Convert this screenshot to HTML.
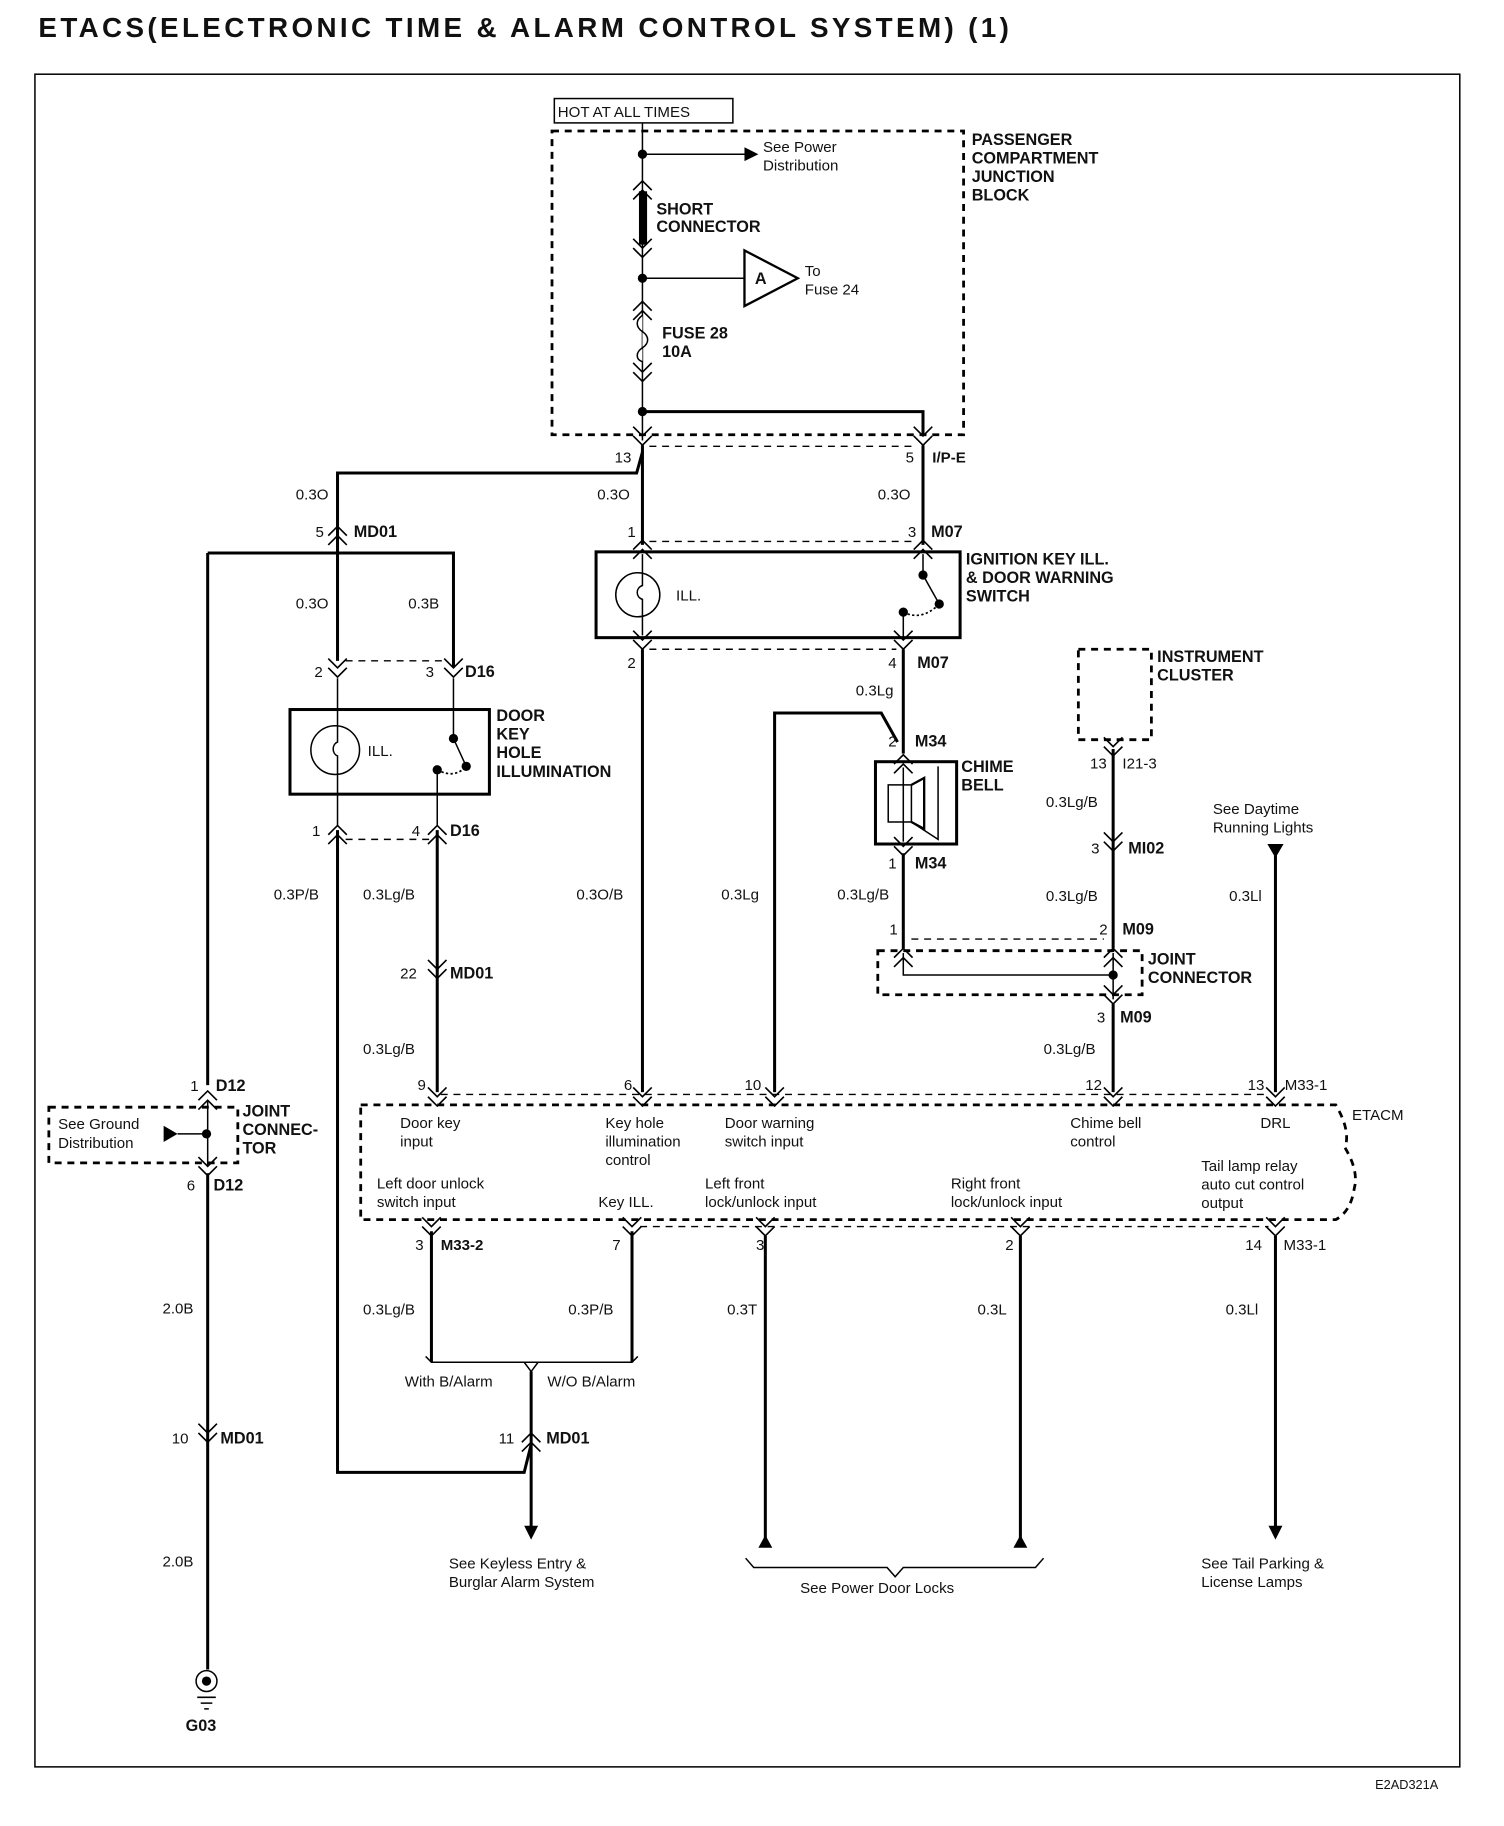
<!DOCTYPE html>
<html><head><meta charset="utf-8"><style>
html,body{margin:0;padding:0;background:#fff;}
svg{display:block;}
text{font-family:"Liberation Sans",sans-serif;font-size:13px;fill:#111;}
.b{font-weight:bold;font-size:14px;}
.w{stroke:#000;stroke-width:2.6;fill:none;}
.t{stroke:#000;stroke-width:1.3;fill:none;}
.d{stroke:#000;stroke-width:1.2;fill:none;stroke-dasharray:6 5;}
.dd{stroke:#000;stroke-width:2.4;fill:none;stroke-dasharray:6 5;}
</style></head><body>
<svg width="1504" height="1826" viewBox="0 0 1297 1575" xmlns="http://www.w3.org/2000/svg">
<defs>
<path id="dn" d="M-8 -12 L0 -4 L8 -12 M-8 -4 L0 4 L8 -4" stroke="#000" stroke-width="1.4" fill="none"/>
<path id="up" d="M-8 12 L0 4 L8 12 M-8 4 L0 -4 L8 4" stroke="#000" stroke-width="1.4" fill="none"/>
</defs>
<text x="33" y="32" style="font-size:24px;font-weight:bold;letter-spacing:2.9px">ETACS(ELECTRONIC TIME &amp; ALARM CONTROL SYSTEM) (1)</text>
<rect x="30" y="64" width="1229" height="1460" class="t" stroke-width="1"/>

<!-- junction block -->
<rect x="478" y="85" width="154" height="21" class="t"/>
<text x="481" y="101" style="font-size:13px">HOT AT ALL TIMES</text>
<rect x="476" y="113" width="355" height="262" class="dd"/>
<text class="b" x="838" y="125">PASSENGER</text><text class="b" x="838" y="141">COMPARTMENT</text><text class="b" x="838" y="157">JUNCTION</text><text class="b" x="838" y="173">BLOCK</text>
<path class="t" d="M554 106 V380"/>
<circle cx="554" cy="133" r="4"/>
<path class="t" d="M554 133 H645"/><path d="M642 127 L654 133 L642 139Z"/>
<text x="658" y="131">See Power</text><text x="658" y="147">Distribution</text>
<use href="#up" x="554" y="160"/>
<rect x="551" y="165" width="7" height="46" fill="#000"/>
<text class="b" x="566" y="185">SHORT</text><text class="b" x="566" y="200">CONNECTOR</text>
<use href="#dn" x="554" y="218"/>
<circle cx="554" cy="240" r="4"/>
<path class="t" d="M554 240 H642"/>
<path d="M642 216 L642 264 L688 240Z" fill="#fff" stroke="#000" stroke-width="2"/>
<text class="b" x="651" y="245">A</text>
<text x="694" y="238">To</text><text x="694" y="254">Fuse 24</text>
<use href="#up" x="554" y="264"/>
<path d="M554 272 c-6 4 -6 10 0 14 c6 4 6 10 0 14 c-6 4 -6 10 0 12" stroke="#000" stroke-width="1.3" fill="#fff"/>
<text class="b" x="571" y="292">FUSE 28</text><text class="b" x="571" y="308">10A</text>
<use href="#dn" x="554" y="325"/>
<circle cx="554" cy="355" r="4"/>
<path class="w" d="M554 355 H796 V375"/>
<use href="#dn" x="554" y="380"/><use href="#dn" x="796" y="380"/>
<path class="d" d="M560 385 H790"/>
<text x="530" y="399">13</text><text x="781" y="399">5</text><text x="804" y="399" class="b" style="font-size:13px">I/P-E</text>

<!-- wires top -->
<path class="w" d="M554 384 V470"/>
<path class="w" d="M796 384 V470"/>
<path class="w" d="M554 390 L549 408 H291 V570"/>
<text x="255" y="431">0.3O</text><text x="515" y="431">0.3O</text><text x="757" y="431">0.3O</text>
<use href="#up" x="291" y="458"/><text x="272" y="463">5</text><text class="b" x="305" y="463">MD01</text>

<!-- ignition key -->
<text x="541" y="463">1</text><text x="783" y="463">3</text><text class="b" x="803" y="463">M07</text>
<path class="d" d="M560 467 H790"/>
<use href="#up" x="554" y="470"/><use href="#up" x="796" y="470"/>
<rect x="514" y="476" width="314" height="74" class="w"/>
<circle cx="550" cy="513" r="19" class="t" stroke-width="1.6"/>
<path class="t" d="M554 478 V505 c-6 2 -6 10 0 12 V548"/>
<text x="583" y="518">ILL.</text>
<path class="t" d="M796 478 V496 L810 521"/>
<circle cx="796" cy="496" r="4"/><circle cx="810" cy="521" r="4"/><circle cx="779" cy="528" r="4"/>
<path d="M779 528 Q795 536 810 521" stroke="#000" stroke-width="1.5" stroke-dasharray="2 2" fill="none"/>
<path class="t" d="M779 528 V550"/>
<text class="b" x="833" y="487">IGNITION KEY ILL.</text><text class="b" x="833" y="503">&amp; DOOR WARNING</text><text class="b" x="833" y="519">SWITCH</text>
<use href="#dn" x="554" y="556"/><use href="#dn" x="779" y="556"/>
<path class="d" d="M560 560 H773"/>
<text x="541" y="576">2</text><text x="766" y="576">4</text><text class="b" x="791" y="576">M07</text>
<path class="w" d="M554 560 V942"/>
<path class="w" d="M779 560 V650"/>
<text x="738" y="600">0.3Lg</text>
<path class="w" d="M774 640 L760 615 H668 V942"/>

<!-- left outer loop -->
<path class="w" d="M179 477 H391 V575"/>
<path class="w" d="M179 477 V936"/>
<text x="255" y="525">0.3O</text><text x="352" y="525">0.3B</text>
<use href="#dn" x="291" y="580"/><use href="#dn" x="391" y="580"/>
<path class="d" d="M298 570 H384"/>
<text x="271" y="584">2</text><text x="367" y="584">3</text><text class="b" x="401" y="584">D16</text>
<rect x="250" y="612" width="172" height="73" class="w"/>
<circle cx="289" cy="647" r="21" class="t" stroke-width="1.6"/>
<path class="t" d="M291 585 V640 c-5 2 -5 10 0 12 V712"/>
<text x="317" y="652">ILL.</text>
<path class="t" d="M391 585 V637 L402 661"/>
<circle cx="391" cy="637" r="4"/><circle cx="402" cy="661" r="4"/><circle cx="377" cy="664" r="4"/>
<path d="M377 664 Q392 672 402 661" stroke="#000" stroke-width="1.5" stroke-dasharray="2 2" fill="none"/>
<path class="t" d="M377 664 V712"/>
<text class="b" x="428" y="622">DOOR</text><text class="b" x="428" y="638">KEY</text><text class="b" x="428" y="654">HOLE</text><text class="b" x="428" y="670">ILLUMINATION</text>
<use href="#up" x="291" y="716"/><use href="#up" x="377" y="716"/>
<path class="d" d="M298 724 H370"/>
<text x="269" y="721">1</text><text x="355" y="721">4</text><text class="b" x="388" y="721">D16</text>
<path class="w" d="M291 716 V1270 H452 L458 1246"/>
<path class="w" d="M377 716 V942"/>
<text x="236" y="776">0.3P/B</text><text x="313" y="776">0.3Lg/B</text><text x="497" y="776">0.3O/B</text><text x="622" y="776">0.3Lg</text><text x="722" y="776">0.3Lg/B</text>
<use href="#dn" x="377" y="840"/><text x="345" y="844">22</text><text class="b" x="388" y="844">MD01</text>
<text x="313" y="909">0.3Lg/B</text>

<!-- chime bell -->
<use href="#up" x="779" y="655"/>
<text x="766" y="644">2</text><text class="b" x="789" y="644">M34</text>
<rect x="755" y="657" width="70" height="71" class="w"/>
<rect x="766" y="677" width="20" height="32" class="t" stroke-width="2"/>
<path d="M786 677 L797 671 V715 L786 709" stroke="#000" stroke-width="2" fill="none"/>
<path class="t" d="M809 661 V724 L786 709"/>
<path class="t" d="M779 662 V726"/>
<text class="b" x="829" y="666">CHIME</text><text class="b" x="829" y="682">BELL</text>
<use href="#dn" x="779" y="734"/>
<text x="766" y="749">1</text><text class="b" x="789" y="749">M34</text>
<path class="w" d="M779 736 V818"/>

<!-- instrument cluster -->
<rect x="930" y="560" width="63" height="78" class="dd"/>
<text class="b" x="998" y="571">INSTRUMENT</text><text class="b" x="998" y="587">CLUSTER</text>
<use href="#dn" x="960" y="648"/>
<text x="940" y="663">13</text><text x="968" y="663">I21-3</text>
<path class="w" d="M960 646 V818"/>
<text x="902" y="696">0.3Lg/B</text>
<use href="#dn" x="960" y="730"/><text x="941" y="736">3</text><text class="b" x="973" y="736">MI02</text>
<text x="902" y="777">0.3Lg/B</text>

<!-- joint connector -->
<text x="767" y="806">1</text><text x="948" y="806">2</text><text class="b" x="968" y="806">M09</text>
<path class="d" d="M786 810 H952"/>
<rect x="757" y="820" width="228" height="38" class="dd"/>
<use href="#up" x="779" y="822"/><use href="#up" x="960" y="822"/>
<path class="t" d="M779 822 V841 H960 M960 822 V862" stroke-width="2"/>
<circle cx="960" cy="841" r="4"/>
<use href="#dn" x="960" y="862"/>
<text class="b" x="990" y="832">JOINT</text><text class="b" x="990" y="848">CONNECTOR</text>
<text x="946" y="882">3</text><text class="b" x="966" y="882">M09</text>
<path class="w" d="M960 866 V942"/>
<text x="900" y="909">0.3Lg/B</text>

<!-- DRL -->
<text x="1046" y="702">See Daytime</text><text x="1046" y="718">Running Lights</text>
<path d="M1093 728 L1107 728 L1100 740Z"/>
<path class="w" d="M1100 738 V942"/>
<text x="1060" y="777">0.3Ll</text>

<!-- ETACM -->
<text x="360" y="940">9</text><text x="538" y="940">6</text><text x="642" y="940">10</text><text x="936" y="940">12</text><text x="1076" y="940">13</text><text x="1108" y="940">M33-1</text>
<path class="d" d="M380 944 H1094"/>
<use href="#dn" x="377" y="950"/><use href="#dn" x="554" y="950"/><use href="#dn" x="668" y="950"/><use href="#dn" x="960" y="950"/><use href="#dn" x="1100" y="950"/>
<path class="dd" d="M311 953 H1152 Q1165 975 1160 990 Q1172 1010 1168 1025 Q1165 1045 1152 1052 H311 Z"/>
<text x="1166" y="966">ETACM</text>
<text x="345" y="973">Door key</text><text x="345" y="989">input</text>
<text x="522" y="973">Key hole</text><text x="522" y="989">illumination</text><text x="522" y="1005">control</text>
<text x="625" y="973">Door warning</text><text x="625" y="989">switch input</text>
<text x="923" y="973">Chime bell</text><text x="923" y="989">control</text>
<text x="1087" y="973">DRL</text>
<text x="1036" y="1010">Tail lamp relay</text><text x="1036" y="1026">auto cut control</text><text x="1036" y="1042">output</text>
<text x="325" y="1025">Left door unlock</text><text x="325" y="1041">switch input</text>
<text x="516" y="1041">Key ILL.</text>
<text x="608" y="1025">Left front</text><text x="608" y="1041">lock/unlock input</text>
<text x="820" y="1025">Right front</text><text x="820" y="1041">lock/unlock input</text>
<use href="#dn" x="372" y="1062"/><use href="#dn" x="545" y="1062"/><use href="#dn" x="660" y="1062"/><use href="#dn" x="880" y="1062"/><use href="#dn" x="1100" y="1062"/>
<path class="d" d="M552 1058 H1094"/>
<text x="358" y="1078">3</text><text class="b" x="380" y="1078" style="font-size:13px">M33-2</text>
<text x="528" y="1078">7</text><text x="652" y="1078">3</text><text x="867" y="1078">2</text>
<text x="1074" y="1078">14</text><text x="1107" y="1078">M33-1</text>

<path class="w" d="M372 1062 V1175"/><path class="w" d="M545 1062 V1175"/>
<path class="t" d="M367 1170 L372 1175 H545 L550 1170"/>
<path class="t" d="M452 1175 L458 1183 L464 1175"/>
<path class="w" d="M458 1183 V1318"/>
<path d="M452 1316 L464 1316 L458 1328Z"/>
<text x="313" y="1134">0.3Lg/B</text><text x="490" y="1134">0.3P/B</text><text x="627" y="1134">0.3T</text><text x="843" y="1134">0.3L</text><text x="1057" y="1134">0.3Ll</text>
<text x="349" y="1196">With B/Alarm</text><text x="472" y="1196">W/O B/Alarm</text>
<use href="#up" x="458" y="1240"/><text x="430" y="1245">11</text><text class="b" x="471" y="1245">MD01</text>
<text x="387" y="1353">See Keyless Entry &amp;</text><text x="387" y="1369">Burglar Alarm System</text>

<path class="w" d="M660 1066 V1330"/><path d="M654 1335 L666 1335 L660 1324Z"/>
<path class="w" d="M880 1066 V1330"/><path d="M874 1335 L886 1335 L880 1324Z"/>
<path class="t" d="M643 1344 L650 1352 H765 L772 1360 L779 1352 H893 L900 1344"/>
<text x="690" y="1374">See Power Door Locks</text>
<path class="w" d="M1100 1066 V1318"/><path d="M1094 1316 L1106 1316 L1100 1328Z"/>
<text x="1036" y="1353">See Tail Parking &amp;</text><text x="1036" y="1369">License Lamps</text>

<!-- left ground -->
<text x="164" y="941">1</text><text class="b" x="186" y="941">D12</text>
<use href="#up" x="179" y="945"/>
<rect x="42" y="955" width="163" height="48" class="dd"/>
<text x="50" y="974">See Ground</text><text x="50" y="990">Distribution</text>
<path d="M141 971 L153 978 L141 985Z"/>
<path class="t" d="M153 978 H178"/>
<circle cx="178" cy="978" r="4"/>
<path class="t" d="M179 950 V1005" stroke-width="2"/>
<use href="#dn" x="179" y="1010"/>
<text class="b" x="209" y="963">JOINT</text><text class="b" x="209" y="979">CONNEC-</text><text class="b" x="209" y="995">TOR</text>
<text x="161" y="1027">6</text><text class="b" x="184" y="1027">D12</text>
<path class="w" d="M179 1012 V1440"/>
<text x="140" y="1133">2.0B</text><text x="140" y="1351">2.0B</text>
<use href="#dn" x="179" y="1240"/><text x="148" y="1245">10</text><text class="b" x="190" y="1245">MD01</text>
<circle cx="178" cy="1450" r="9" class="t" stroke-width="2.5"/><circle cx="178" cy="1450" r="4"/>
<path class="t" d="M170 1464 H186 M173 1469 H183 M176 1474 H180"/>
<text class="b" x="160" y="1493">G03</text>
<text x="1186" y="1543" style="font-size:11px">E2AD321A</text>
</svg>
</body></html>
